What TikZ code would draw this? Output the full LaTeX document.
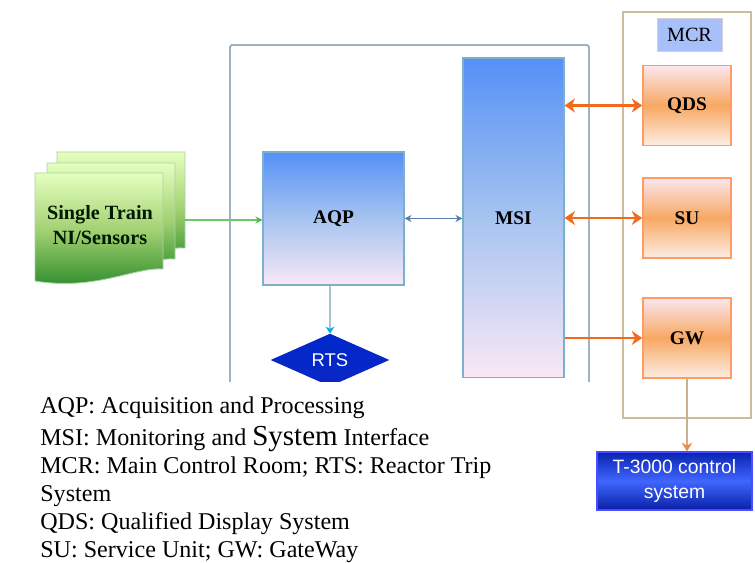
\documentclass[tikz,border=0pt]{standalone}
\usepackage{fontspec}
\setmainfont{Liberation Serif}
\newfontfamily\labelsans{Liberation Sans}
\usetikzlibrary{shapes.geometric,arrows.meta}

\definecolor{framegray}{HTML}{9AB4C2}
\definecolor{mcrtan}{HTML}{CBBD9E}
\definecolor{linkorange}{HTML}{F26B1D}
\definecolor{boxteal}{HTML}{7AB0CC}
\definecolor{deepblue}{HTML}{0A26C4}
\definecolor{aqptop}{HTML}{5590F6}
\definecolor{aqpmid}{HTML}{A6C4F0}
\definecolor{aqpbot}{HTML}{F9E8F6}
\definecolor{qdstop}{HTML}{FCE6EE}
\definecolor{qdsmid}{HTML}{F7A862}
\definecolor{qdsbot}{HTML}{FDEDE4}
\definecolor{mcrblue}{HTML}{A8C0FA}

\tikzset{
    otip/.tip={Stealth[length=6pt,width=8pt]},
    ttip/.tip={Stealth[length=4pt,width=4pt]},
    blueblk/.style={draw=boxteal, line width=0.6pt, top color=aqptop, bottom color=aqpbot, middle color=aqpmid, inner sep=0pt, font=\bfseries\fontsize{11}{13}\selectfont},
    orangeblk/.style={draw=orange!70!red!60!white, line width=0.8pt, top color=qdstop, bottom color=qdsbot, middle color=qdsmid, inner sep=0pt, minimum width=1.76cm, minimum height=1.6cm, font=\bfseries\fontsize{11}{13}\selectfont},
    page/.style={draw=green!50!black!35!white, line width=0.5pt, top color=green!40!yellow!25!white, bottom color=green!45!black!85!white, middle color=green!50!yellow!50!gray!75!white},
    orangelink/.style={draw=linkorange, line width=1.7pt},
    thinlink/.style={line width=0.6pt}
}

\begin{document}
\begin{tikzpicture}[x=0.02cm, y=-0.02cm]
    \useasboundingbox (0,0) rectangle (755,563);

    % outer frames
    \draw[framegray, line width=1.1pt, rounded corners=1pt] (230,382) -- (230,45) -- (589,45) -- (589,382);
    \draw[mcrtan, line width=1.1pt] (623,12) rectangle (751,418);

    % sensor stack
    \foreach \dx/\dy in {57/152, 47/163, 35/173}
        \draw[page, shift={(\dx,\dy)}] (0,0) -- (128,0) -- (128,96) .. controls (100,94) and (60,118) .. (0,108) -- cycle;
    \node[font=\bfseries\fontsize{11.5}{14}\selectfont, text=black!90!green, align=center] (sens) at (100,225) {Single Train\\NI/Sensors};
    \coordinate (sensout) at (184,220);

    \node[blueblk, minimum width=2.82cm, minimum height=2.66cm] (aqp) at (333.5,218.5) {AQP};
    \node[blueblk, minimum width=2.02cm, minimum height=6.4cm] (msi) at (513.5,218) {MSI};

    \begin{scope}
        \clip (0,0) rectangle (755,382);
        \node[diamond, aspect=2.25, minimum width=2.34cm, minimum height=1.04cm, inner sep=0pt, draw=deepblue, top color=blue!80!cyan!80!black, bottom color=deepblue, text=white, font=\labelsans\fontsize{10.5}{12}\selectfont] (rts) at (330,360) {RTS};
    \end{scope}

    \node[draw=gray!35, fill=mcrblue, minimum width=1.3cm, minimum height=0.66cm, inner sep=0pt, font=\fontsize{11.5}{13}\selectfont] (mcr) at (689.5,34.5) {MCR};
    \node[orangeblk] (qds) at (687,105.5) {QDS};
    \node[orangeblk] (su) at (687,218) {SU};
    \node[orangeblk] (gw) at (687,338) {GW};

    \node[draw=blue!70!white, line width=0.6pt, top color=deepblue!90!black, bottom color=deepblue!85!black, middle color=blue!80!cyan!75!white, text=white, align=center, minimum width=3.1cm, minimum height=1.16cm, inner sep=0pt, font=\labelsans\fontsize{11}{14}\selectfont] (t3000) at (674.5,481) {T-3000 control\\system};

    % links
    \draw[thinlink, green!45!gray!80!white, -{Stealth[length=4pt,width=4pt,color=green!60!black!70!white]}] (sensout) -- (sensout -| aqp.west);
    \draw[thinlink, cyan!50!blue!60!gray, ttip-ttip] (aqp.east) -- (aqp.east -| msi.west);
    \draw[line width=1.1pt, cyan!30!gray!60!white, -{Stealth[length=4pt,width=5pt,color=cyan]}] (rts.north |- aqp.south) -- (rts.north);
    \draw[orangelink, otip-otip] (msi.east |- qds.west) -- (qds.west);
    \draw[orangelink, otip-otip] (msi.east |- su.west) -- (su.west);
    \draw[orangelink, -otip] (msi.east |- gw.west) -- (gw.west);
    \draw[line width=1.1pt, mcrtan!80!brown, -{Stealth[length=5pt,width=6pt,color=linkorange!80!white]}] (gw.south) -- (gw.south |- t3000.north);

    \node[anchor=north west, inner sep=0pt, align=left, font=\fontsize{13.7}{16}\selectfont] (legend) at (40,396) {AQP: Acquisition and Processing\\[2.2pt]
        MSI: Monitoring and {\fontsize{16.5}{16}\selectfont System} Interface\\
        MCR: Main Control Room; RTS: Reactor Trip\\
        System\\
        QDS: Qualified Display System\\
        SU: Service Unit; GW: GateWay};
\end{tikzpicture}
\end{document}
